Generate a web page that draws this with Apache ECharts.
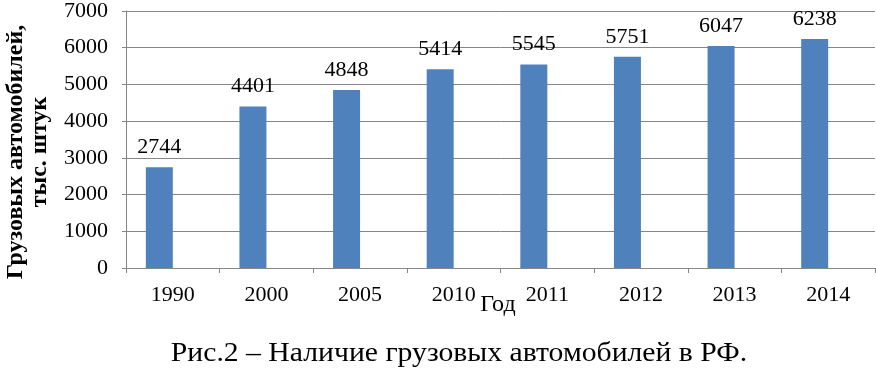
<!DOCTYPE html>
<html><head><meta charset="utf-8">
<script src="https://cdn.jsdelivr.net/npm/echarts@6/dist/echarts.min.js"></script>
<style>html,body{margin:0;padding:0;background:#fff}#c{width:876px;height:373px}</style>
</head><body><div id="c"></div>
<script>
var categories = ['1990','2000','2005','2010','2011','2012','2013','2014'];
var values = [2744, 4401, 4848, 5414, 5545, 5751, 6047, 6238];
var yTitle = 'Грузовых автомобилей,\nтыс. штук';
var xTitle = 'Год';
var caption = 'Рис.2 – Наличие грузовых автомобилей в РФ.';
var F = '"Liberation Serif","Times New Roman",serif';
var chart = echarts.init(document.getElementById('c'), null, {renderer:'canvas'});
chart.setOption({
  animation:false,
  grid:{left:126,right:1,top:7,bottom:105,containLabel:false},
  xAxis:{type:'category',data:categories,
    axisLine:{lineStyle:{color:'#868686',width:1}},
    axisTick:{show:true,length:5,lineStyle:{color:'#868686'}},
    axisLabel:{color:'#000',fontFamily:F,fontSize:22,margin:16}},
  yAxis:{type:'value',min:0,max:7000,interval:1000,
    axisLine:{show:true,lineStyle:{color:'#868686'}},
    axisTick:{show:true,length:4,lineStyle:{color:'#868686'}},
    splitLine:{lineStyle:{color:'#868686',width:1}},
    axisLabel:{color:'#000',fontFamily:F,fontSize:22,margin:18,formatter:function(v){return String(v);}}},
  graphic:[
    {type:'text',x:28,y:152,rotation:Math.PI/2,style:{text:yTitle,font:'bold 24px '+F,fill:'#000',align:'center',verticalAlign:'middle',lineHeight:24}},
    {type:'text',x:498,y:305,style:{text:xTitle,font:'24px '+F,fill:'#000',align:'center',verticalAlign:'middle'}},
    {type:'text',x:459,y:354,scaleX:1.1,style:{text:caption,font:'27px '+F,fill:'#000',align:'center',verticalAlign:'middle'}}
  ],
  series:[
    {type:'bar',data:values,barWidth:27,barGap:'0%',itemStyle:{color:'#4F81BD'},
     label:{show:true,position:'top',distance:9,color:'#000',fontFamily:F,fontSize:22}},
    {type:'bar',data:categories.map(function(){return null;}),barWidth:27,barGap:'0%'}
  ]
});
</script></body></html>
